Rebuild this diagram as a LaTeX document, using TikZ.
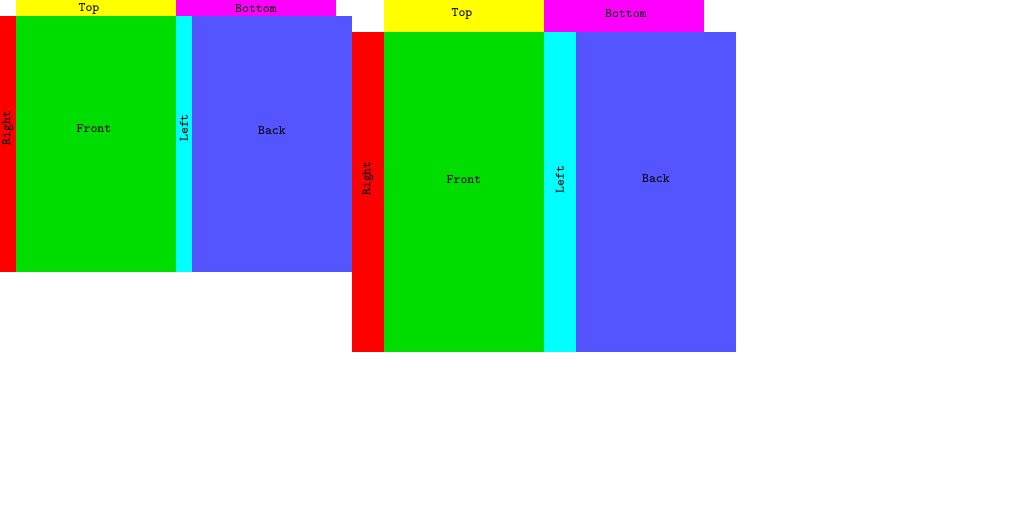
\documentclass[tikz,border=0pt]{standalone}
\usepackage{tikz}
\usetikzlibrary{positioning}
\definecolor{fRight}{RGB}{255,0,0}
\definecolor{fFront}{RGB}{0,221,0}
\definecolor{fLeft}{RGB}{0,255,255}
\definecolor{fBack}{RGB}{85,85,255}
\definecolor{fTop}{RGB}{255,255,0}
\definecolor{fBottom}{RGB}{255,0,255}
\tikzset{
  face/.style={rectangle, fill=#1, draw=none, inner sep=0pt, outer sep=0pt,
               label distance=0pt},
  facelabel/.style={inner sep=0pt, font=\ttfamily\fontsize{7.4}{8}\selectfont},
}
\begin{document}
\begin{tikzpicture}[x=0.02cm, y=-0.02cm, node distance=0pt,
                    every label/.append style={facelabel}]
    \useasboundingbox (0,0) rectangle (1024,512);
    % first net, thin sides
    \node[face=fRight, minimum width=0.32cm, minimum height=5.12cm, anchor=north west,
          label={[yshift=0.32cm, rotate=90]center:Right}] (rt1) at (0,16) {};
    \node[face=fFront, minimum width=3.2cm, minimum height=5.12cm, right=of rt1,
          label={[yshift=0.30cm, xshift=-0.04cm]center:Front}] (fr1) {};
    \node[face=fLeft, minimum width=0.32cm, minimum height=5.12cm, right=of fr1,
          label={[yshift=0.32cm, rotate=90]center:Left}] (lf1) {};
    \node[face=fBack, minimum width=3.2cm, minimum height=5.12cm, right=of lf1,
          label={[yshift=0.26cm]center:Back}] (bk1) {};
    \node[face=fTop, minimum width=3.2cm, minimum height=0.32cm, above=of fr1,
          label={[yshift=-0.01cm, xshift=-0.14cm]center:Top}] (tp1) {};
    \node[face=fBottom, minimum width=3.2cm, minimum height=0.32cm, right=of tp1,
          label={[yshift=-0.01cm]center:Bottom}] (bt1) {};
    % second net, thick sides
    \node[face=fRight, minimum width=0.64cm, minimum height=6.4cm, anchor=north west,
          label={[yshift=0.27cm, rotate=90]center:Right}] (rt2) at (352,32) {};
    \node[face=fFront, minimum width=3.2cm, minimum height=6.4cm, right=of rt2,
          label={[yshift=0.24cm]center:Front}] (fr2) {};
    \node[face=fLeft, minimum width=0.64cm, minimum height=6.4cm, right=of fr2,
          label={[yshift=0.25cm, rotate=90]center:Left}] (lf2) {};
    \node[face=fBack, minimum width=3.2cm, minimum height=6.4cm, right=of lf2,
          label={[yshift=0.26cm]center:Back}] (bk2) {};
    \node[face=fTop, minimum width=3.2cm, minimum height=0.64cm, above=of fr2,
          label={[yshift=0.04cm, xshift=-0.04cm]center:Top}] (tp2) {};
    \node[face=fBottom, minimum width=3.2cm, minimum height=0.64cm, right=of tp2,
          label={[yshift=0.04cm, xshift=0.04cm]center:Bottom}] (bt2) {};
\end{tikzpicture}
\end{document}
